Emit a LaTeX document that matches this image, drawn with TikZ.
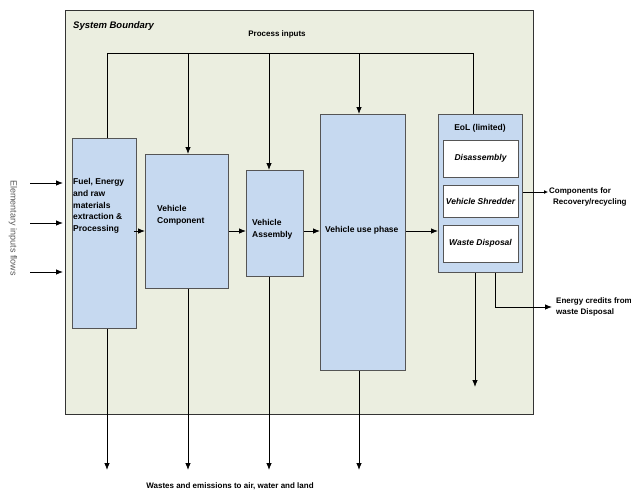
\documentclass[tikz,border=0pt]{standalone}
\usepackage{fontspec}
\setmainfont{Liberation Sans}
\usetikzlibrary{arrows.meta}
\definecolor{bndfill}{RGB}{235,238,224}
\definecolor{boxblue}{RGB}{198,217,240}
\definecolor{boxline}{RGB}{85,85,85}

\begin{document}
\begin{tikzpicture}[x=1pt, y=-1pt,
  blk/.style={draw=boxline, fill=boxblue, line width=0.8pt, anchor=north west, inner sep=0pt},
  sub/.style={draw=boxline, fill=white, line width=0.8pt, minimum width=75pt, inner sep=0pt, font=\fontsize{8.5}{10}\selectfont\bfseries\itshape},
  lbl/.style={font=\fontsize{8.5}{11.6}\selectfont\bfseries, align=left, inner sep=0pt},
  flow/.style={-{Latex[length=7pt,width=5.5pt]}, line width=0.8pt}]
\useasboundingbox (0,0) rectangle (631,491);
% system boundary
\node[draw=black!80, fill=bndfill, line width=0.9pt, anchor=north west, inner sep=0pt,
  minimum width=468pt, minimum height=404pt] (sysb) at (65,10) {};
\node[font=\fontsize{9.5}{11}\selectfont\bfseries\itshape, anchor=west, inner sep=0pt] (sysl) at (73,26) {System Boundary};
\node[lbl, font=\fontsize{8}{10}\selectfont\bfseries] (pin) at (277,34) {Process inputs};

% process stages
\node[blk, minimum width=64pt, minimum height=190pt] (fuel) at (72,138) {};
\node[blk, minimum width=83pt, minimum height=134pt] (comp) at (145,154) {};
\node[blk, minimum width=57pt, minimum height=106pt] (asm) at (246,170) {};
\node[blk, minimum width=85pt, minimum height=256pt] (use) at (320,114) {};
\node[blk, minimum width=84pt, minimum height=158pt] (eol) at (438,114) {};
\node[sub, minimum height=37pt] (dis) at (480.5,158.5) {Disassembly};
\node[sub, minimum height=32pt] (shr) at (480.5,201) {Vehicle Shredder};
\node[sub, minimum height=37pt] (wst) at (480.5,243.5) {Waste Disposal};

\node[lbl, anchor=west] (fuelt) at (73,206) {Fuel, Energy\\and raw\\materials\\extraction \&\\Processing};
\node[lbl, anchor=west] (compt) at (157,215.5) {Vehicle\\Component};
\node[lbl, anchor=west] (asmt) at (252,229) {Vehicle\\Assembly};
\node[lbl, anchor=west] (uset) at (325,230) {Vehicle use phase};
\node[lbl] (eolt) at (480,128) {EoL (limited)};

% process inputs bus
\coordinate (p1) at (107,53);
\coordinate (p2) at (188,53);
\coordinate (p3) at (269,53);
\coordinate (p4) at (359,53);
\coordinate (p5) at (473,53);
\draw[line width=0.7pt] (fuel.north -| p1) -- (p1) -- (p5) -- (eol.north -| p5);
\draw[flow] (p2) -- (comp.north -| p2);
\draw[flow] (p3) -- (asm.north -| p3);
\draw[flow] (p4) -- (use.north -| p4);

% main flow
\coordinate (row) at (0,231);
\draw[flow] ([xshift=-3pt]fuel.east |- row) -- (comp.west |- row);
\draw[flow] (comp.east |- row) -- (asm.west |- row);
\draw[flow] (asm.east |- row) -- (use.west |- row);
\draw[flow] (use.east |- row) -- (eol.west |- row);

% elementary inputs
\foreach \yy [count=\i] in {183,223,272}{
  \coordinate (e\i) at (30,\yy);
  \draw[flow, shorten >=2pt] (e\i) -- (sysb.west |- e\i);
}
\node[rotate=-90, text=black!65, font=\fontsize{9}{10}\selectfont, inner sep=0pt] (elem) at (13,228) {Elementary inputs flows};

% wastes and emissions
\coordinate (w1) at (107,470);
\coordinate (w2) at (188,470);
\coordinate (w3) at (269,470);
\coordinate (w4) at (359,470);
\draw[flow] (fuel.south -| w1) -- (w1);
\draw[flow] (comp.south -| w2) -- (w2);
\draw[flow] (asm.south -| w3) -- (w3);
\draw[flow] (use.south -| w4) -- (w4);
\node[lbl, font=\fontsize{8}{10}\selectfont\bfseries] (wastet) at (230,486) {Wastes and emissions to air, water and land};

% end of life outputs
\coordinate (eout) at (475,387);
\draw[flow] (eol.south -| eout) -- (eout);
\coordinate (cmp) at (548,192);
\draw[-{Latex[length=4pt,width=4pt]}, line width=0.8pt] (eol.east |- cmp) -- (cmp);
\node[lbl, anchor=north west, font=\fontsize{8}{11}\selectfont\bfseries] (cmpt) at (549,187) {Components for\\\hspace*{4pt}Recovery/recycling};
\coordinate (ecol) at (495,307);
\coordinate (enr) at (552,307);
\draw[flow] (eol.south -| ecol) -- (ecol) -- (enr);
\node[lbl, anchor=west, font=\fontsize{8}{11.5}\selectfont\bfseries] (enrt) at (556,307) {Energy credits from\\waste Disposal};
\end{tikzpicture}
\end{document}
